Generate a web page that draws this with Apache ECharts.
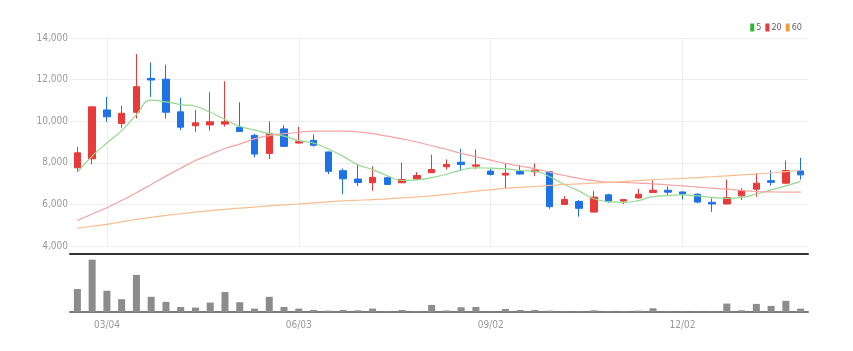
<!DOCTYPE html>
<html>
<head>
<meta charset="utf-8">
<script src="https://cdn.jsdelivr.net/npm/echarts@6/dist/echarts.min.js"></script>
<style>
  html, body { margin: 0; padding: 0; background: #fff; }
  #main { width: 853px; height: 351px; }
</style>
</head>
<body>
<div id="main"></div>
<script>
// weekly candles
var dates = ['02/19', '02/26', '03/04', '03/11', '03/18', '03/25', '04/01', '04/08', '04/15', '04/22',
    '04/29', '05/06', '05/13', '05/20', '05/27', '06/03', '06/10', '06/17', '06/24', '07/01',
    '07/08', '07/15', '07/22', '07/29', '08/05', '08/12', '08/19', '08/26', '09/02', '09/09',
    '09/16', '09/23', '09/30', '10/07', '10/14', '10/21', '10/28', '11/04', '11/11', '11/18',
    '11/25', '12/02', '12/09', '12/16', '12/23', '12/30', '01/06', '01/13', '01/20', '01/27'];

var opens = [7760, 8190, 10540, 9890, 10430, 12060, 12020, 10450, 9780, 9820,
    9860, 9710, 9320, 8450, 9630, 8950, 9080, 8520, 7620, 7220,
    7040, 7280, 7040, 7220, 7520, 7810, 8030, 7840, 7600, 7410,
    7580, 7570, 7570, 6000, 6140, 5630, 6460, 6160, 6310, 6570,
    6680, 6600, 6490, 6100, 6020, 6410, 6730, 7140, 7020, 7610];
var closes = [8480, 10690, 10210, 10380, 11660, 11980, 10430, 9710, 9920, 9970,
    9970, 9500, 8420, 9400, 8790, 9030, 8840, 7590, 7230, 7050,
    7300, 6960, 7200, 7390, 7680, 7920, 7920, 7900, 7440, 7500,
    7460, 7650, 5890, 6240, 5810, 6350, 6130, 6230, 6490, 6680,
    6590, 6500, 6110, 6020, 6330, 6670, 7020, 7060, 7630, 7420];
var lows = [7550, 7920, 9970, 9680, 10130, 11170, 10130, 9570, 9470, 9550,
    9740, 9500, 8260, 8180, 8760, 8920, 8780, 7460, 6490, 6880,
    6650, 6930, 7020, 7170, 7510, 7680, 7600, 7710, 7390, 6750,
    7420, 7360, 5790, 5980, 5410, 5630, 6080, 6020, 6280, 6550,
    6460, 6240, 6050, 5640, 6020, 6210, 6370, 6910, 6980, 7190];
var highs = [8770, 10700, 11170, 10750, 13230, 12830, 12720, 11120, 10540, 11390,
    11920, 10910, 9400, 10000, 9810, 9730, 9360, 8540, 7730, 7940,
    7830, 7340, 8020, 7550, 8390, 8160, 8670, 8640, 7710, 7970,
    7900, 7970, 7600, 6400, 6210, 6640, 6510, 6260, 6750, 7140,
    6860, 6620, 6540, 6290, 7190, 6780, 7510, 7640, 8110, 8240];

var volumes = [680, 1550, 630, 380, 1100, 450, 300, 150, 130, 280,
    590, 290, 100, 450, 150, 100, 60, 40, 60, 50,
    100, 20, 60, 20, 210, 45, 140, 150, 10, 90,
    60, 60, 40, 20, 20, 50, 20, 20, 40, 110,
    20, 20, 10, 10, 250, 50, 240, 180, 330, 100];

// moving averages as drawn (include weeks before the window)
var ma5 = [7550, 8320, 8960, 9550, 10320, 11010, 10930, 10800, 10720, 10430,
    10080, 9760, 9580, 9400, 9280, 9070, 8950, 8660, 8310, 7910,
    7670, 7380, 7150, 7180, 7290, 7450, 7650, 7760, 7740, 7710,
    7630, 7600, 7330, 6960, 6640, 6270, 6130, 6100, 6180, 6370,
    6420, 6460, 6410, 6330, 6290, 6340, 6500, 6700, 6890, 7110];
var ma20 = [5230, 5540, 5840, 6190, 6560, 6960, 7360, 7740, 8110, 8400,
    8690, 8900, 9150, 9310, 9400, 9470, 9520, 9520, 9520, 9490,
    9400, 9280, 9150, 9000, 8820, 8650, 8450, 8290, 8130, 7970,
    7840, 7710, 7550, 7390, 7250, 7140, 7070, 7060, 7020, 6990,
    6940, 6890, 6830, 6780, 6730, 6670, 6620, 6600, 6590, 6590];
var ma60 = [4850, 4950, 5040, 5160, 5280, 5380, 5470, 5550, 5630, 5700,
    5760, 5820, 5870, 5930, 5980, 6020, 6070, 6120, 6170, 6200,
    6230, 6270, 6310, 6360, 6410, 6480, 6560, 6640, 6700, 6770,
    6820, 6860, 6910, 6960, 6990, 7020, 7060, 7100, 7140, 7190,
    7220, 7250, 7290, 7330, 7370, 7420, 7460, 7510, 7580, 7630];

var upColor = '#e83a3a';
var downColor = '#1f72e6';
var font = '"Liberation Sans Narrow", "DejaVu Sans Condensed", sans-serif';

function showLabel(index) {
    return (index - 2) % 13 === 0;
}

var candles = [];
for (var i = 0; i < dates.length; i++) {
    candles.push([opens[i], closes[i], lows[i], highs[i]]);
}

var chart = echarts.init(document.getElementById('main'));
var option = {
    animation: false,
    backgroundColor: '#fff',
    legend: {
        right: 46,
        top: 18,
        itemWidth: 4,
        itemHeight: 8,
        itemGap: 4,
        icon: 'rect',
        textStyle: { fontSize: 9, color: '#666', fontFamily: font, padding: [0, 0, 0, -3] },
        data: [
            { name: '5', itemStyle: { color: '#2db82d' } },
            { name: '20', itemStyle: { color: '#e83a3a' } },
            { name: '60', itemStyle: { color: '#f29b3a' } }
        ]
    },
    grid: [
        { left: 70, right: 45, top: 38, bottom: 105 },
        { left: 70, right: 45, top: 258, bottom: 39 }
    ],
    xAxis: [
        {
            type: 'category', gridIndex: 0, data: dates,
            axisLine: { show: false },
            axisTick: { show: false, alignWithLabel: true, interval: showLabel },
            axisLabel: { show: false, interval: showLabel },
            splitLine: { show: true, interval: showLabel, alignWithLabel: true, lineStyle: { color: '#eeeeee' } }
        },
        {
            type: 'category', gridIndex: 1, data: dates,
            axisLine: { lineStyle: { color: '#7a7a7a', width: 2 } },
            axisTick: { interval: showLabel, alignWithLabel: true, length: 4, lineStyle: { color: '#555' } },
            axisLabel: { interval: showLabel, color: '#999', fontSize: 10, fontFamily: font, margin: 8 },
            splitLine: { show: false }
        },
        {
            type: 'category', gridIndex: 1, data: dates, position: 'top', offset: 4,
            axisLine: { lineStyle: { color: '#333', width: 2 } },
            axisTick: { show: false }, axisLabel: { show: false }
        }
    ],
    yAxis: [
        {
            type: 'value', gridIndex: 0, min: 4000, max: 14000, interval: 2000,
            axisLine: { show: false }, axisTick: { show: false },
            axisLabel: {
                color: '#999', fontSize: 10, fontFamily: font, margin: 2,
                formatter: function (v) { return v.toLocaleString('en-US'); }
            },
            splitLine: { lineStyle: { color: '#eeeeee' } }
        },
        {
            type: 'value', gridIndex: 1, min: 0, max: 1600,
            axisLine: { show: false }, axisTick: { show: false }, axisLabel: { show: false },
            splitLine: { show: false }
        }
    ],
    series: [
        {
            name: 'price', type: 'candlestick', xAxisIndex: 0, yAxisIndex: 0,
            data: candles, barWidth: 7,
            itemStyle: {
                color: upColor, color0: downColor,
                borderColor: upColor, borderColor0: downColor, borderWidth: 1
            }
        },
        {
            name: '5', type: 'line', xAxisIndex: 0, yAxisIndex: 0, data: ma5,
            showSymbol: false, smooth: true, z: 3,
            itemStyle: { color: '#2db82d' },
            lineStyle: { color: '#95d98f', width: 1.2 }
        },
        {
            name: '20', type: 'line', xAxisIndex: 0, yAxisIndex: 0, data: ma20,
            showSymbol: false, smooth: true, z: 3,
            itemStyle: { color: '#e83a3a' },
            lineStyle: { color: '#f4a3a3', width: 1.2 }
        },
        {
            name: '60', type: 'line', xAxisIndex: 0, yAxisIndex: 0, data: ma60,
            showSymbol: false, smooth: true, z: 3,
            itemStyle: { color: '#f29b3a' },
            lineStyle: { color: '#f7bf91', width: 1.2 }
        },
        {
            name: 'volume', type: 'bar', xAxisIndex: 1, yAxisIndex: 1, data: volumes,
            barWidth: 7, itemStyle: { color: '#8c8c8c' }
        }
    ]
};
chart.setOption(option);
</script>
</body>
</html>
